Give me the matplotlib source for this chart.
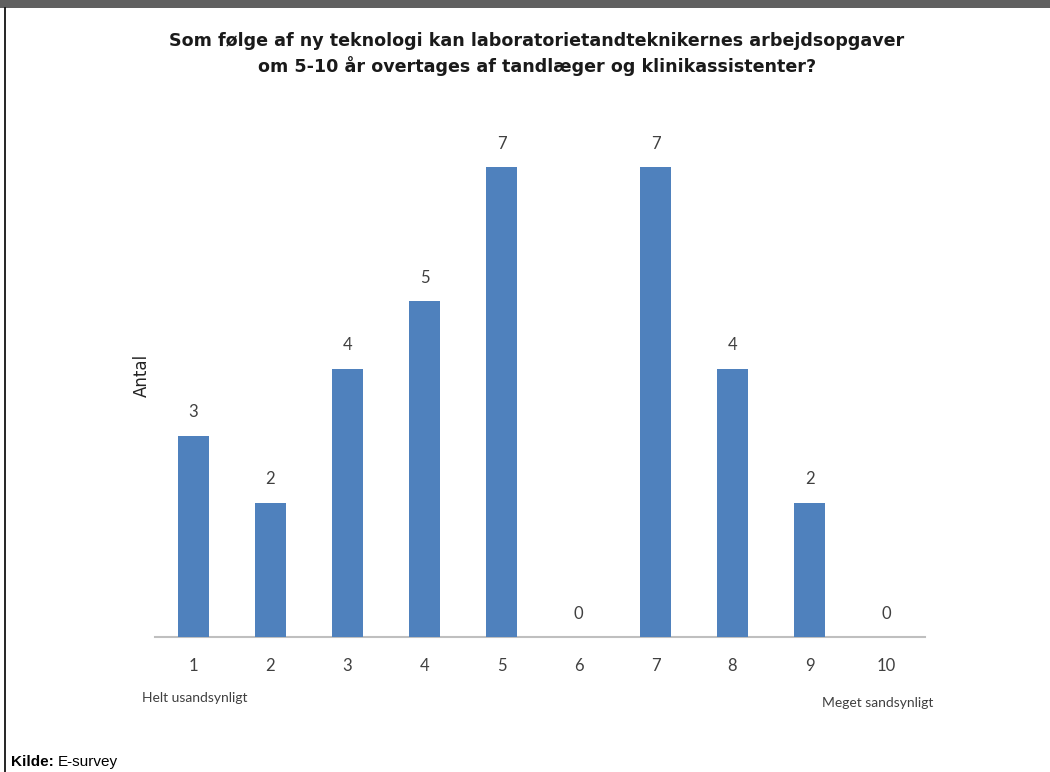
import matplotlib
matplotlib.use("Agg")
import matplotlib.pyplot as plt
from matplotlib.patches import Rectangle
from matplotlib.lines import Line2D

categories = ["1", "2", "3", "4", "5", "6", "7", "8", "9", "10"]
values = [3, 2, 4, 5, 7, 0, 7, 4, 2, 0]
title = ("Som følge af ny teknologi kan laboratorietandteknikernes arbejdsopgaver\n"
         "om 5-10 år overtages af tandlæger og klinikassistenter?")
ylabel = "Antal"
left_note = "Helt usandsynligt"
right_note = "Meget sandsynligt"

W, H = 1050, 772
fig = plt.figure(figsize=(W / 100, H / 100), dpi=100)
fig.patch.set_facecolor("white")

# top gray band and left border
fig.add_artist(Rectangle((0, 1 - 8 / H), 1, 8 / H, transform=fig.transFigure,
                         facecolor="#606060", edgecolor="none"))
fig.add_artist(Line2D([5 / W, 5 / W], [0, 1 - 8 / H], transform=fig.transFigure,
                      color="black", lw=1.2))

ax = fig.add_axes([155 / W, (H - 637) / H, 770 / W, 537 / H])
x = list(range(1, len(categories) + 1))
bars = ax.bar(x, values, width=0.39, color="#4F81BD", zorder=2)
ax.set_xlim(0.5, len(categories) + 0.5)
ax.set_ylim(0, 8)
ax.set_xticks(x)
ax.set_xticklabels(categories, fontsize=12, color="#404040", family="Lato")
ax.tick_params(axis="x", length=0, pad=15)
ax.set_yticks([])
for s in ["top", "right", "left"]:
    ax.spines[s].set_visible(False)
ax.spines["bottom"].set_color("#bfbfbf")
ax.spines["bottom"].set_linewidth(1.5)
ax.spines["bottom"].set_zorder(1)

for xi, v in zip(x, values):
    ax.annotate(str(v), (xi, v), xytext=(0, 11), textcoords="offset points",
                ha="center", va="bottom", fontsize=12, color="#404040", family="Lato")

fig.text(537 / W, 1 - 54 / H, title, ha="center", va="center", fontsize=12.6,
         fontweight="bold", family="DejaVu Sans", color="#1a1a1a", linespacing=1.35)
fig.text(142 / W, 1 - 375 / H, ylabel, rotation=90, ha="center", va="center",
         fontsize=12, family="Liberation Sans Narrow", color="#222222")
fig.text(195 / W, 1 - 698 / H, left_note, ha="center", va="center", fontsize=10,
         family="Lato", color="#404040")
fig.text(878 / W, 1 - 703 / H, right_note, ha="center", va="center", fontsize=10,
         family="Lato", color="#404040")

t1 = fig.text(11 / W, 1 - 762 / H, "Kilde:", ha="left", va="center", fontsize=11,
              fontweight="bold", family="Liberation Sans", color="black")
fig.canvas.draw()
bb = t1.get_window_extent()
fig.text((bb.x1 + 4) / W, 1 - 762 / H, "E-survey", ha="left", va="center",
         fontsize=11, family="Liberation Sans", color="black")

fig.savefig("out.png", dpi=100)
